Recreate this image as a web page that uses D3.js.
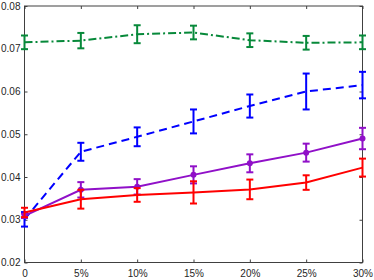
<!DOCTYPE html>
<html>
<head>
<meta charset="utf-8">
<script src="https://cdn.jsdelivr.net/npm/d3@7"></script>
<style>
  html, body { margin: 0; padding: 0; background: #fff; }
  text { font-family: "Liberation Sans", Arial, sans-serif; }
</style>
</head>
<body>
<div id="chart"></div>
<script>
// chart values
const xLevels = [0, 5, 10, 15, 20, 25, 30];
const xTickLabels = ['0', '5%', '10%', '15%', '20%', '25%', '30%'];
const yTicks = [0.02, 0.03, 0.04, 0.05, 0.06, 0.07, 0.08];

const greenMean = [0.0715, 0.0719, 0.0734, 0.0738, 0.0720, 0.0714, 0.0715];
const greenErr  = [0.0016, 0.0018, 0.0021, 0.0016, 0.0016, 0.0016, 0.0016];
const blueMean  = [0.0301, 0.0459, 0.0494, 0.0530, 0.0566, 0.0600, 0.0615];
const blueErr   = [0.0017, 0.0021, 0.0022, 0.0028, 0.0027, 0.0042, 0.0031];
const purpleMean = [0.0309, 0.0370, 0.0377, 0.0405, 0.0432, 0.0457, 0.0490];
const purpleErr  = [0.0005, 0.0018, 0.0018, 0.0020, 0.0021, 0.0021, 0.0025];
const redMean   = [0.0317, 0.0348, 0.0358, 0.0364, 0.0371, 0.0387, 0.0422];
const redErr    = [0.0011, 0.0022, 0.0016, 0.0026, 0.0023, 0.0017, 0.0021];

const series = [
  { mean: greenMean, err: greenErr, color: '#07893a', dash: '8,3,2,3', marker: false },
  { mean: blueMean, err: blueErr, color: '#0000ff', dash: '8,5', marker: false },
  { mean: purpleMean, err: purpleErr, color: '#9010c8', dash: null, marker: true },
  { mean: redMean, err: redErr, color: '#ff0000', dash: null, marker: false }
];

const width = 374, height = 280;
const plotLeft = 24.5, plotRight = 362.5, plotTop = 6, plotBottom = 262.5;

const svg = d3.select('#chart').append('svg')
  .attr('width', width)
  .attr('height', height);

const x = d3.scaleLinear().domain([0, 30]).range([plotLeft, plotRight]);
const y = d3.scaleLinear().domain([0.02, 0.08]).range([plotBottom, plotTop]);

const axisColor = '#404040';
const tickLen = 3;

// box
svg.append('rect')
  .attr('x', plotLeft).attr('y', plotTop)
  .attr('width', plotRight - plotLeft).attr('height', plotBottom - plotTop)
  .attr('fill', 'none').attr('stroke', axisColor).attr('stroke-width', 1);

// ticks on all four sides, pointing in
const xAxisB = svg.append('g').attr('transform', `translate(0,${plotBottom})`)
  .call(d3.axisBottom(x).tickValues(xLevels).tickSizeInner(-tickLen).tickSizeOuter(0).tickPadding(7)
    .tickFormat((d, i) => xTickLabels[i]));
const xAxisT = svg.append('g').attr('transform', `translate(0,${plotTop})`)
  .call(d3.axisTop(x).tickValues(xLevels).tickSizeInner(-tickLen).tickSizeOuter(0).tickFormat(''));
const yAxisL = svg.append('g').attr('transform', `translate(${plotLeft},0)`)
  .call(d3.axisLeft(y).tickValues(yTicks).tickSizeInner(-tickLen).tickSizeOuter(0).tickPadding(4)
    .tickFormat(d3.format('.2f')));
const yAxisR = svg.append('g').attr('transform', `translate(${plotRight},0)`)
  .call(d3.axisRight(y).tickValues(yTicks).tickSizeInner(-tickLen).tickSizeOuter(0).tickFormat(''));

[xAxisB, xAxisT, yAxisL, yAxisR].forEach(a => {
  a.select('.domain').remove();
  a.selectAll('line').attr('stroke', axisColor);
  a.selectAll('text').attr('fill', '#262626').style('font-size', '10px')
    .style('font-family', '"Liberation Sans", Arial, sans-serif');
});

const plot = svg.append('g');
const line = d3.line().x((d, i) => x(xLevels[i])).y(d => y(d));
const capHalf = 3.5;

series.forEach(s => {
  plot.append('path')
    .datum(s.mean)
    .attr('d', line)
    .attr('fill', 'none')
    .attr('stroke', s.color)
    .attr('stroke-width', 2)
    .attr('stroke-dasharray', s.dash);

  const bars = plot.append('g').attr('stroke', s.color).attr('stroke-width', 2).attr('fill', 'none');
  s.mean.forEach((m, i) => {
    const cx = x(xLevels[i]);
    const y0 = y(m - s.err[i]), y1 = y(m + s.err[i]);
    bars.append('line').attr('x1', cx).attr('x2', cx).attr('y1', y0).attr('y2', y1);
    bars.append('line').attr('x1', cx - capHalf).attr('x2', cx + capHalf).attr('y1', y0).attr('y2', y0);
    bars.append('line').attr('x1', cx - capHalf).attr('x2', cx + capHalf).attr('y1', y1).attr('y2', y1);
  });

  if (s.marker) {
    plot.append('g').selectAll('circle')
      .data(s.mean)
      .join('circle')
      .attr('cx', (d, i) => x(xLevels[i]))
      .attr('cy', d => y(d))
      .attr('r', 3)
      .attr('fill', s.color);
  }
});
</script>
</body>
</html>
